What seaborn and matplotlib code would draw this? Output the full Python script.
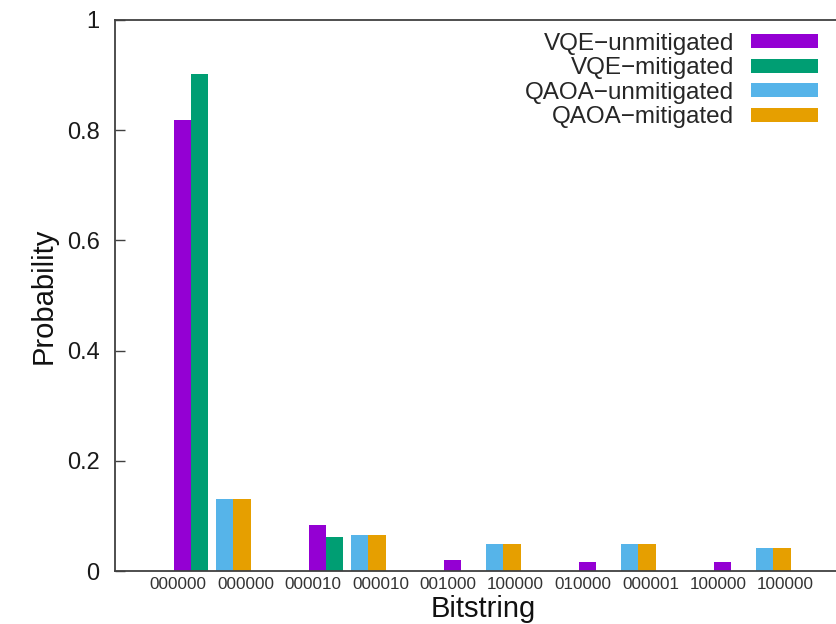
import matplotlib
matplotlib.use("Agg")
import matplotlib.pyplot as plt
import pandas as pd
import seaborn as sns
from matplotlib.patches import Patch

# Most probable bitstrings per run, interleaved VQE / QAOA
vqe_bitstrings = ["000000", "000010", "001000", "010000", "100000"]
qaoa_bitstrings = ["000000", "000010", "100000", "000001", "100000"]

vqe_unmitigated = [0.818, 0.084, 0.020, 0.017, 0.016]
vqe_mitigated = [0.902, 0.062, 0.0, 0.0, 0.0]
qaoa_unmitigated = [0.131, 0.066, 0.049, 0.049, 0.042]
qaoa_mitigated = [0.131, 0.066, 0.049, 0.049, 0.042]

series_names = ["VQE−unmitigated", "VQE−mitigated",
                "QAOA−unmitigated", "QAOA−mitigated"]
series_colors = ["#9400d3", "#009e73", "#56b4e9", "#e69f00"]

# Layout (in cluster units): bar width, offset of the QAOA pair, label offset
bar_w = 0.128
qaoa_shift = 0.313
label_shift = -0.096

rows = []
series_values = [vqe_unmitigated, vqe_mitigated, qaoa_unmitigated, qaoa_mitigated]
offsets = [-bar_w / 2, bar_w / 2, qaoa_shift - bar_w / 2, qaoa_shift + bar_w / 2]
for name, vals, off in zip(series_names, series_values, offsets):
    for i, v in enumerate(vals):
        rows.append({"pos": i + off, "prob": v, "series": name})
df = pd.DataFrame(rows)

tick_labels = []
for a, b in zip(vqe_bitstrings, qaoa_bitstrings):
    tick_labels += [a, b]
tick_pos = [label_shift + 0.5 * j for j in range(len(tick_labels))]

sns.set_style("white")
plt.rcParams["font.family"] = ["Liberation Sans", "DejaVu Sans"]

fig = plt.figure(figsize=(8.36, 6.24), dpi=100)
ax = fig.add_axes([115 / 836, 53 / 624, (852.5 - 115) / 836, (571 - 20) / 624])

sns.barplot(data=df, x="pos", y="prob", hue="series", hue_order=series_names,
            palette=series_colors, native_scale=True, dodge=False, width=1.0,
            errorbar=None, legend=False, saturation=1, linewidth=0, ax=ax)

ax.set_xlim(-0.563, 4.9)
ax.set_ylim(0, 1)
ax.set_yticks([0, 0.2, 0.4, 0.6, 0.8, 1.0])
ax.set_yticklabels(["0", "0.2", "0.4", "0.6", "0.8", "1"])
ax.set_xticks(tick_pos)
ax.set_xticklabels(tick_labels)

ax.tick_params(axis="y", direction="in", length=7, width=1, color="#404040",
               labelsize=17, pad=11, labelcolor="#1a1a1a", left=True)
ax.tick_params(axis="x", length=0, labelsize=12.3, pad=4.5, labelcolor="#333333")

for side in ["left", "top", "bottom"]:
    ax.spines[side].set_color("#404040")
    ax.spines[side].set_linewidth(1.3)
ax.spines["right"].set_visible(False)

ax.set_xlabel("Bitstring", fontsize=21, labelpad=2, color="#111111")
ax.set_ylabel("Probability", fontsize=21, labelpad=7, color="#111111")

handles = [Patch(facecolor=c, edgecolor="none") for c in series_colors]
ax.legend(handles, series_names, loc="upper right",
          bbox_to_anchor=(818 / 836, 1 - 33 / 624), bbox_transform=fig.transFigure,
          frameon=False, markerfirst=False, fontsize=17.5, handlelength=2.75,
          handleheight=0.52, handletextpad=0.7, labelspacing=0.1,
          borderpad=0, borderaxespad=0)

fig.savefig("out.png", dpi=100)
